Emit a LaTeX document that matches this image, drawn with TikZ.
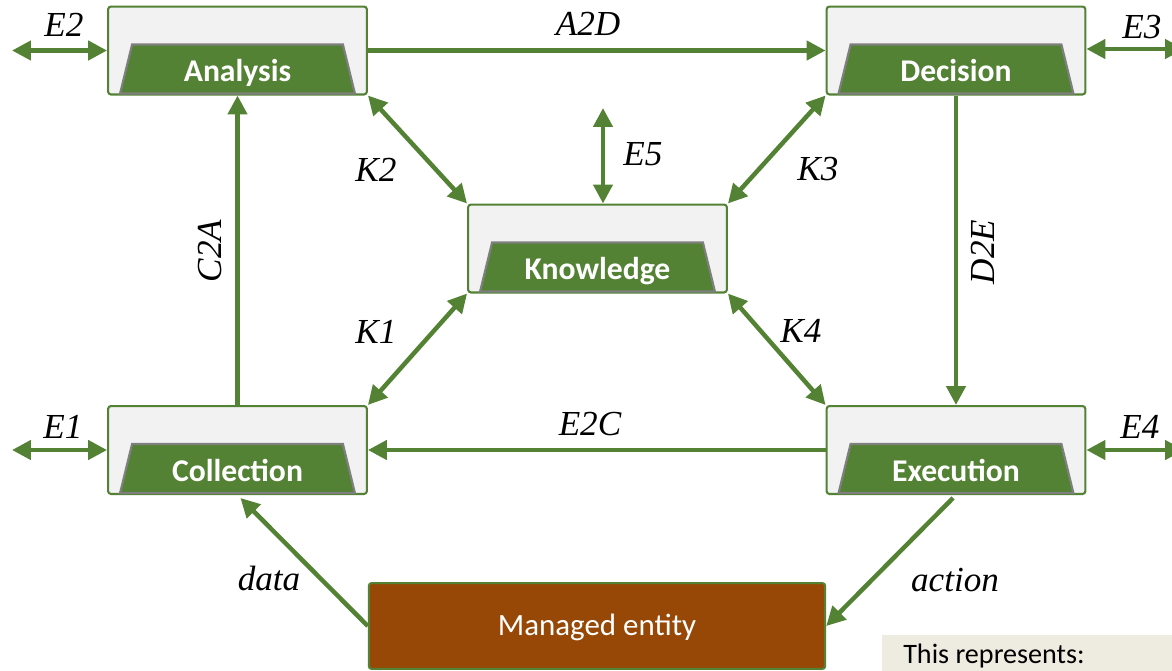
\documentclass[tikz,border=0pt]{standalone}
\usepackage{fontspec}
\setmainfont{Carlito}
\newfontfamily\lblfont{Liberation Serif}
\usetikzlibrary{arrows.meta,calc}
\definecolor{leaf}{HTML}{548235}
\definecolor{boxgray}{HTML}{F2F2F2}
\definecolor{edgegray}{HTML}{7F7F7F}
\definecolor{rust}{HTML}{974806}
\definecolor{tan}{HTML}{EEECE1}
% one stage of the loop: framed box with a green trapezoid tab
\newcommand{\stage}[4]{%
  \node[stagebox] (#1) at (#2,#3) {};
  \filldraw[trap] ($(#1.south west)+(13,-2)$) -- ($(#1.south east)+(-13,-2)$)
    -- ($(#1.south east)+(-25,-51)$) -- ($(#1.south west)+(25,-51)$) -- cycle;
  \node[stagetext] (#1-l) at ($(#1.south)+(0,-14)$) {#4};
}
\begin{document}
\begin{tikzpicture}[x=0.025cm,y=-0.025cm,
  stagebox/.style={draw=leaf,fill=boxgray,line width=1.5pt,rounded corners=2pt,
    minimum width=184pt,minimum height=62.5pt,inner sep=0pt},
  trap/.style={fill=leaf,draw=edgegray,line width=1.5pt},
  stagetext/.style={anchor=base,text=white,inner sep=0pt,
    font=\fontsize{22.5}{26}\selectfont\bfseries},
  flow/.style={draw=leaf,line width=3.2pt,-{Triangle[length=13.5pt,width=13.5pt]}},
  twoway/.style={flow,{Triangle[length=13.5pt,width=13.5pt]}-{Triangle[length=13.5pt,width=13.5pt]}},
  lbl/.style={inner sep=0pt,font=\lblfont\itshape\fontsize{25}{30}\selectfont},
]
\path[use as bounding box,clip] (0,0) rectangle (1172,671);

% stages
\stage{ana}{237.5}{50.5}{Analysis}
\stage{dec}{956}{50.5}{Decision}
\stage{kno}{597.5}{248.5}{Knowledge}
\stage{col}{237.5}{450}{Collection}
\stage{exe}{956}{450}{Execution}
\node[draw=leaf,fill=rust,line width=1.5pt,rounded corners=2pt,minimum width=324.5pt,
  minimum height=61pt,text=white,text height=14.2pt,text depth=0pt,
  font=\fontsize{22}{26}\selectfont] (man) at (597,626) {Managed entity};

% note box (cut by the frame)
\node[fill=tan,anchor=north west,minimum width=230pt,minimum height=60pt] (note) at (882,635) {};
\node[anchor=base west,inner sep=0pt,font=\fontsize{20}{24}\selectfont] (note-l) at (903,663) {This represents:};

% free ends
\coordinate (e1) at (12,450);
\coordinate (e2) at (12,50.5);
\coordinate (e3) at (1184,49);
\coordinate (e4) at (1184,450);
\coordinate (e5) at (603,108);

% loop
\draw[flow] (ana) -- (dec);
\draw[flow] (dec) -- (exe);
\draw[flow] (exe) -- (col);
\draw[flow] (col) -- (ana);
\draw[flow,shorten >=3pt] (man.west) -- (col.south);
\draw[flow,shorten <=3pt] (exe.south) -- (man.east);

% knowledge links
\draw[twoway] (ana.south east) -- (kno.north west);
\draw[twoway] (dec.south west) -- (kno.north east);
\draw[twoway] (col.north east) -- (kno.south west);
\draw[twoway] (exe.north west) -- (kno.south east);

% external links
\draw[twoway] (e1) -- (col.west);
\draw[twoway] (e2) -- (ana.west);
\draw[twoway] (dec.east |- e3) -- (e3);
\draw[twoway] (exe.east) -- (e4);
\draw[twoway] (e5) -- (e5 |- kno.north);

% labels
\node[lbl] (a2d-l) at (588,24) {A2D};
\node[lbl] (e2c-l) at (590,424) {E2C};
\node[lbl,rotate=90] (c2a-l) at (210,251) {C2A};
\node[lbl,rotate=90] (d2e-l) at (983,252) {D2E};
\node[lbl] (k1-l) at (376,332) {K1};
\node[lbl] (k2-l) at (376,170) {K2};
\node[lbl] (k3-l) at (818,169) {K3};
\node[lbl] (k4-l) at (801,331) {K4};
\node[lbl] (e1-l) at (63,427) {E1};
\node[lbl] (e2-l) at (64,25) {E2};
\node[lbl] (e3-l) at (1142,27) {E3};
\node[lbl] (e4-l) at (1140,427) {E4};
\node[lbl] (e5-l) at (643,154) {E5};
\node[lbl] (data-l) at (269,578) {data};
\node[lbl] (action-l) at (955,580) {action};
\end{tikzpicture}
\end{document}
